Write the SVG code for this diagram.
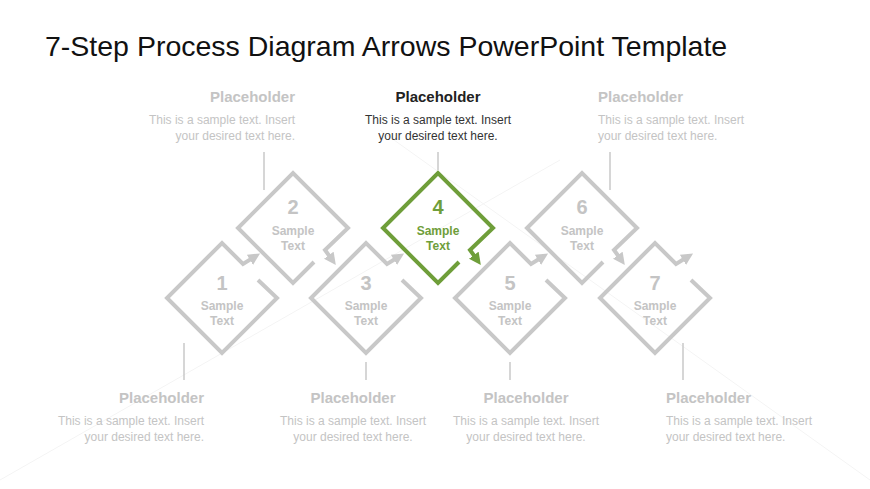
<svg xmlns="http://www.w3.org/2000/svg" width="870" height="489" viewBox="0 0 870 489">
<defs>
<marker id="ag" viewBox="0 0 10 10" refX="6" refY="5" markerWidth="3" markerHeight="3" orient="auto"><path d="M0,0 L10,5 L0,10 z" fill="#c8c8c8"/></marker>
<marker id="ak" viewBox="0 0 10 10" refX="6" refY="5" markerWidth="3" markerHeight="3" orient="auto"><path d="M0,0 L10,5 L0,10 z" fill="#6f9e3a"/></marker>
</defs>
<style>
.d{fill:none;stroke:#c8c8c8;stroke-width:4}
.dg{fill:none;stroke:#6f9e3a;stroke-width:4}
.n{font:bold 20px "Liberation Sans",sans-serif;fill:#c4c4c4;text-anchor:middle}
.s{font:bold 12px "Liberation Sans",sans-serif;fill:#c4c4c4;text-anchor:middle}
.g{fill:#6f9e3a}
.ph{font:bold 15px "Liberation Sans",sans-serif;fill:#c4c4c4}
.tx{font:12px "Liberation Sans",sans-serif;fill:#c4c4c4}
.cn{stroke:#c8c8c8;stroke-width:1.5}
</style>
<rect width="870" height="489" fill="#fff"/>
<g stroke="#f4f4f4" stroke-width="1"><line x1="0" y1="480" x2="560" y2="160"/><line x1="380" y1="130" x2="870" y2="480"/></g>
<text x="45" y="56" font-family="Liberation Sans,sans-serif" font-size="28.5" fill="#111">7-Step Process Diagram Arrows PowerPoint Template</text>
<g id="connectors">
<line class="cn" x1="264" y1="152" x2="264" y2="190"/>
<line class="cn" x1="438" y1="152" x2="438" y2="170"/>
<line class="cn" x1="610" y1="152" x2="610" y2="190"/>
<line class="cn" x1="184" y1="343" x2="184" y2="380"/>
<line class="cn" x1="366" y1="362" x2="366" y2="380"/>
<line class="cn" x1="510" y1="362" x2="510" y2="380"/>
<line class="cn" x1="683" y1="343" x2="683" y2="380"/>
</g>
<g id="step1" transform="translate(222,298)"><path class="d" d="M36,-18 L55,0 L0,55 L-55,0 L0,-55 L21,-34 L34,-42" marker-end="url(#ag)"/><text class="n" y="-8">1</text><text class="s" y="12">Sample</text><text class="s" y="27">Text</text></g>
<g id="step3" transform="translate(366,298)"><path class="d" d="M36,-18 L55,0 L0,55 L-55,0 L0,-55 L21,-34 L34,-42" marker-end="url(#ag)"/><text class="n" y="-8">3</text><text class="s" y="12">Sample</text><text class="s" y="27">Text</text></g>
<g id="step5" transform="translate(510,298)"><path class="d" d="M36,-18 L55,0 L0,55 L-55,0 L0,-55 L21,-34 L34,-42" marker-end="url(#ag)"/><text class="n" y="-8">5</text><text class="s" y="12">Sample</text><text class="s" y="27">Text</text></g>
<g id="step7" transform="translate(655,298)"><path class="d" d="M36,-18 L55,0 L0,55 L-55,0 L0,-55 L21,-34 L34,-42" marker-end="url(#ag)"/><text class="n" y="-8">7</text><text class="s" y="12">Sample</text><text class="s" y="27">Text</text></g>
<g id="step2" transform="translate(293,228)"><path class="d" d="M21,34 L0,55 L-55,0 L0,-55 L55,0 L32,22 L40,33" marker-end="url(#ag)"/><text class="n" y="-14">2</text><text class="s" y="7">Sample</text><text class="s" y="22">Text</text></g>
<g id="step4" transform="translate(438,228)"><path class="dg" d="M21,34 L0,55 L-55,0 L0,-55 L55,0 L32,22 L40,33" marker-end="url(#ak)"/><text class="n g" y="-14">4</text><text class="s g" y="7">Sample</text><text class="s g" y="22">Text</text></g>
<g id="step6" transform="translate(582,228)"><path class="d" d="M21,34 L0,55 L-55,0 L0,-55 L55,0 L32,22 L40,33" marker-end="url(#ag)"/><text class="n" y="-14">6</text><text class="s" y="7">Sample</text><text class="s" y="22">Text</text></g>
<g id="label-top-left" text-anchor="end"><text class="ph" x="295" y="102">Placeholder</text><text class="tx" x="295" y="124">This is a sample text. Insert</text><text class="tx" x="295" y="140">your desired text here.</text></g>
<g id="label-top-center" text-anchor="middle"><text class="ph" x="438" y="102" style="fill:#222">Placeholder</text><text class="tx" x="438" y="124" style="fill:#333">This is a sample text. Insert</text><text class="tx" x="438" y="140" style="fill:#333">your desired text here.</text></g>
<g id="label-top-right"><text class="ph" x="598" y="102">Placeholder</text><text class="tx" x="598" y="124">This is a sample text. Insert</text><text class="tx" x="598" y="140">your desired text here.</text></g>
<g id="label-bottom-1" text-anchor="end"><text class="ph" x="204" y="403">Placeholder</text><text class="tx" x="204" y="425">This is a sample text. Insert</text><text class="tx" x="204" y="441">your desired text here.</text></g>
<g id="label-bottom-3" text-anchor="middle"><text class="ph" x="353" y="403">Placeholder</text><text class="tx" x="353" y="425">This is a sample text. Insert</text><text class="tx" x="353" y="441">your desired text here.</text></g>
<g id="label-bottom-5" text-anchor="middle"><text class="ph" x="526" y="403">Placeholder</text><text class="tx" x="526" y="425">This is a sample text. Insert</text><text class="tx" x="526" y="441">your desired text here.</text></g>
<g id="label-bottom-7"><text class="ph" x="666" y="403">Placeholder</text><text class="tx" x="666" y="425">This is a sample text. Insert</text><text class="tx" x="666" y="441">your desired text here.</text></g>
</svg>
